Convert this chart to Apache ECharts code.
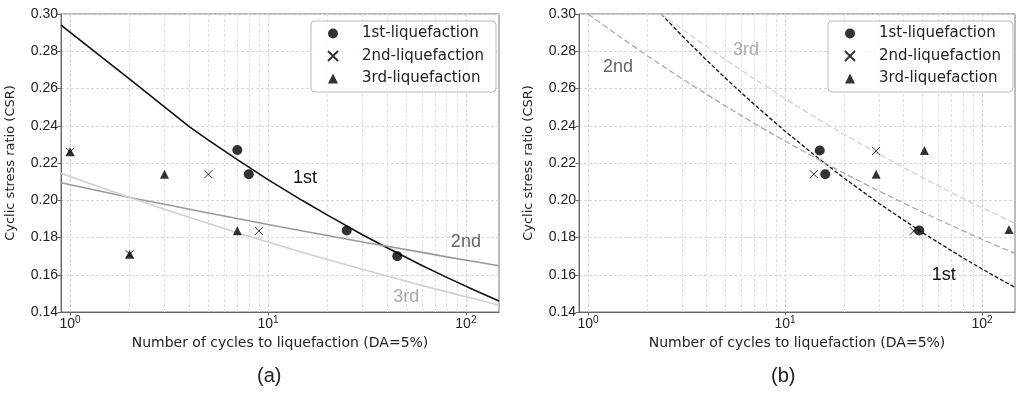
<!DOCTYPE html>
<html><head><meta charset="utf-8">
<script src="https://cdn.jsdelivr.net/npm/echarts@6/dist/echarts.min.js"></script>
<style>html,body{margin:0;padding:0;background:#fff}#c{width:1024px;height:400px}</style>
</head><body><div id="c"></div>
<script>
// ---------- data ----------
const seriesNames = ['1st-liquefaction', '2nd-liquefaction', '3rd-liquefaction'];
const xMajorTicks = [1, 10, 100];
const xMinorGrid = [2, 3, 4, 5, 6, 7, 8, 9, 20, 30, 40, 50, 60, 70, 80, 90];
const xRange = [0.9, 147];
const yRange = [0.14, 0.30];
const yStep = 0.02;
const panelLabels = ['(a)', '(b)'];
const xTitle = 'Number of cycles to liquefaction (DA=5%)';
const yTitle = 'Cyclic stress ratio (CSR)';

// panel (a) measured points [N, CSR]
const a1st = [[7, 0.227], [8, 0.214], [25, 0.1838], [45, 0.170]];
const a2nd = [[1, 0.226], [2, 0.171], [5, 0.214], [9, 0.1835]];
const a3rd = [[1, 0.226], [2, 0.171], [3, 0.214], [7, 0.1836]];
// panel (a) fitted curves
const aFit1 = [[0.9, 0.294], [2, 0.265], [4, 0.2395], [5, 0.2323], [7, 0.2218], [10, 0.2111], [15, 0.1997], [20, 0.1920], [30, 0.1815], [40, 0.1745], [60, 0.1650], [80, 0.1586], [110, 0.1518], [147, 0.1459]];
const aFit2 = [[0.9, 0.2094], [1.3, 0.2058], [2, 0.2015], [3, 0.1979], [5, 0.1932], [7, 0.1902], [10, 0.1870], [15, 0.1835], [20, 0.1811], [30, 0.1776], [40, 0.1753], [60, 0.1720], [80, 0.1696], [110, 0.1671], [147, 0.1648]];
const aFit3 = [[0.9, 0.2145], [1.3, 0.2084], [2, 0.2015], [3, 0.1952], [5, 0.1875], [7, 0.1826], [10, 0.1776], [15, 0.1720], [20, 0.1682], [30, 0.1629], [40, 0.1593], [60, 0.1542], [80, 0.1508], [110, 0.1471], [147, 0.1436]];
const aCurveLabels = [['1st', 15.4, 0.2117], ['2nd', 100, 0.1773], ['3rd', 50, 0.1478]];

// panel (b) measured points
const b1st = [[15, 0.2267], [16, 0.214], [48, 0.1838]];
const b2nd = [[14, 0.214], [29, 0.2265], [45, 0.1835]];
const b3rd = [[29, 0.214], [51, 0.2267], [137, 0.1843]];
// panel (b) fitted curves
const bFit1 = [[2.35, 0.300], [3, 0.2883], [4, 0.2752], [5, 0.2654], [7, 0.2513], [10, 0.2371], [15, 0.2220], [20, 0.2118], [30, 0.1983], [50, 0.1825], [80, 0.1691], [110, 0.1606], [147, 0.1532]];
const bFit2 = [[1, 0.300], [1.5, 0.2867], [2, 0.2776], [3, 0.2652], [5, 0.2505], [7, 0.2412], [10, 0.2317], [15, 0.2215], [20, 0.2144], [30, 0.2049], [50, 0.1935], [80, 0.1836], [110, 0.1771], [147, 0.1715]];
const bFit3 = [[2.35, 0.300], [3, 0.2918], [5, 0.2754], [7, 0.2651], [10, 0.2546], [15, 0.2431], [20, 0.2353], [30, 0.2247], [50, 0.2120], [80, 0.2010], [110, 0.1939], [147, 0.1876]];
const bCurveLabels = [['2nd', 1.42, 0.2713], ['3rd', 6.34, 0.2804], ['1st', 64, 0.1601]];

// ---------- chart ----------
const FONT = 'DejaVu Sans';
const TICK_FONT = 'Liberation Sans';
const ANN_FONT = 'Liberation Sans';
const crossPath = 'path://M0,0L10,10M10,0L0,10';
const grids = [
  {left: 61, top: 14, width: 438, height: 298},
  {left: 579, top: 14, width: 436, height: 298}
];

function xAxisDef(i) {
  return {
    type: 'log', gridIndex: i, min: xRange[0], max: xRange[1], logBase: 10,
    name: xTitle, nameLocation: 'middle', nameGap: 22,
    nameTextStyle: {fontFamily: FONT, fontSize: 14, color: '#222'},
    axisLine: {lineStyle: {color: '#666', width: 1}},
    axisTick: {show: true, length: 3.5, customValues: xMajorTicks, lineStyle: {color: '#666'}},
    axisLabel: {
      customValues: xMajorTicks, margin: 3,
      formatter: v => '{b|10}{s|' + Math.round(Math.log10(v)) + '}',
      rich: {
        b: {fontFamily: TICK_FONT, fontSize: 14, color: '#222'},
        s: {fontFamily: TICK_FONT, fontSize: 10, color: '#222', padding: [0, 0, 8, 0]}
      }
    },
    splitLine: {show: true, lineStyle: {color: '#d4d4d4', width: 1, type: [3, 2]}},
    minorTick: {show: false}
  };
}
function yAxisDef(i) {
  return {
    type: 'value', gridIndex: i, min: yRange[0], max: yRange[1], interval: yStep,
    name: yTitle, nameLocation: 'middle', nameGap: 44, nameRotate: 90,
    nameTextStyle: {fontFamily: FONT, fontSize: 13, color: '#222'},
    axisLine: {show: true, lineStyle: {color: '#666', width: 1}},
    axisTick: {show: true, length: 3.5, lineStyle: {color: '#666'}},
    axisLabel: {fontFamily: TICK_FONT, fontSize: 14, color: '#222', margin: 3, formatter: v => v.toFixed(2)},
    splitLine: {show: true, lineStyle: {color: '#d8d8d8', width: 1, type: [3, 2]}}
  };
}
function scatterSeries(i, name, data, kind) {
  const s = {
    type: 'scatter', name: name, xAxisIndex: i, yAxisIndex: i, data: data, z: 4,
    symbolSize: 9, itemStyle: {color: '#000'}
  };
  if (kind === 'circle') { s.symbol = 'circle'; s.symbolSize = 10; }
  if (kind === 'triangle') { s.symbol = 'triangle'; s.symbolSize = 9; }
  if (kind === 'cross') {
    s.symbol = crossPath; s.symbolSize = 8;
    s.itemStyle = {color: 'rgba(0,0,0,0)', borderColor: '#000', borderWidth: 1};
  }
  return s;
}
function lineSeries(i, name, data, color, width, dash) {
  return {
    type: 'line', name: name, xAxisIndex: i, yAxisIndex: i, data: data, z: 3,
    showSymbol: false, symbol: 'none', smooth: false, silent: true,
    lineStyle: {color: color, width: width, type: dash}
  };
}
function annotSeries(i, labels, colors) {
  return {
    type: 'scatter', name: 'ann' + i, xAxisIndex: i, yAxisIndex: i, data: [], silent: true, z: 5,
    markPoint: {
      symbol: 'circle', symbolSize: 1, itemStyle: {color: 'rgba(0,0,0,0)'}, silent: true, animation: false,
      data: labels.map(l => ({
        coord: [l[1], l[2]],
        label: {show: true, position: 'inside', formatter: l[0], color: colors[l[0]],
                fontFamily: ANN_FONT, fontSize: 18}
      }))
    },
    markLine: {
      silent: true, symbol: ['none', 'none'], z: 1, animation: false,
      label: {show: false},
      lineStyle: {color: '#e0e0e0', width: 1, type: [3, 2]},
      data: xMinorGrid.map(v => ({xAxis: v}))
    }
  };
}
function legendDef(left) {
  return {
    data: seriesNames, orient: 'vertical', left: left, top: 21,
    padding: [5, 12, 6, 16], itemWidth: 10, itemHeight: 10, itemGap: 7.5,
    backgroundColor: 'rgba(255,255,255,0.85)', borderColor: '#bbb', borderWidth: 1, borderRadius: 4,
    textStyle: {fontFamily: FONT, fontSize: 15, color: '#222', lineHeight: 15, padding: [0, 0, 0, 19]},
    selectedMode: false
  };
}

const labelColors = {'1st': '#111', '2nd': '#666', '3rd': '#aaa'};

const option = {
  animation: false,
  backgroundColor: '#fff',
  grid: grids.map(g => Object.assign({show: true, borderColor: '#777', borderWidth: 1, containLabel: false}, g)),
  xAxis: [xAxisDef(0), xAxisDef(1)],
  yAxis: [yAxisDef(0), yAxisDef(1)],
  legend: [legendDef(311), legendDef(828)],
  graphic: [
    {type: 'text', left: 257, top: 366, style: {text: panelLabels[0], font: '20px "Liberation Sans"', fill: '#222'}},
    {type: 'text', left: 771, top: 366, style: {text: panelLabels[1], font: '20px "Liberation Sans"', fill: '#222'}}
  ],
  series: [
    annotSeries(0, aCurveLabels, labelColors),
    lineSeries(0, 'fit-a-1', aFit1, '#111', 1.6, 'solid'),
    lineSeries(0, 'fit-a-2', aFit2, '#9a9a9a', 1.6, 'solid'),
    lineSeries(0, 'fit-a-3', aFit3, '#cfcfcf', 1.6, 'solid'),
    scatterSeries(0, seriesNames[0], a1st, 'circle'),
    scatterSeries(0, seriesNames[1], a2nd, 'cross'),
    scatterSeries(0, seriesNames[2], a3rd, 'triangle'),

    annotSeries(1, bCurveLabels, labelColors),
    lineSeries(1, 'fit-b-1', bFit1, '#111', 1.3, [4, 2]),
    lineSeries(1, 'fit-b-2', bFit2, '#aaaaaa', 1.3, [6, 3]),
    lineSeries(1, 'fit-b-3', bFit3, '#d2d2d2', 1.3, [6, 3]),
    scatterSeries(1, seriesNames[0], b1st, 'circle'),
    scatterSeries(1, seriesNames[1], b2nd, 'cross'),
    scatterSeries(1, seriesNames[2], b3rd, 'triangle')
  ]
};
const chart = echarts.init(document.getElementById('c'), null, {renderer: 'canvas'});
chart.setOption(option);
</script>
</body></html>
